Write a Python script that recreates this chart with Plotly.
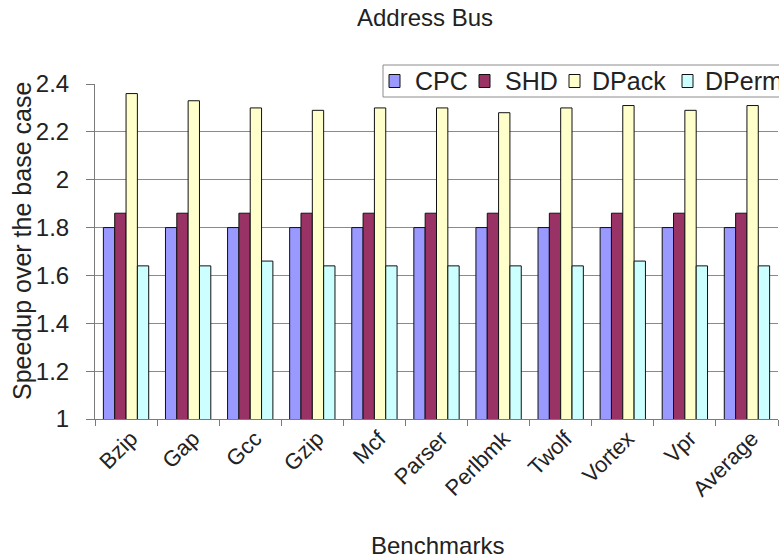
import plotly.graph_objects as go

# Benchmarks on the x axis
benchmarks = ["Bzip", "Gap", "Gcc", "Gzip", "Mcf", "Parser", "Perlbmk",
              "Twolf", "Vortex", "Vpr", "Average"]

# Speedup over the base case for each encoding scheme
cpc = [1.80, 1.80, 1.80, 1.80, 1.80, 1.80, 1.80, 1.80, 1.80, 1.80, 1.80]
shd = [1.86, 1.86, 1.86, 1.86, 1.86, 1.86, 1.86, 1.86, 1.86, 1.86, 1.86]
dpack = [2.36, 2.33, 2.30, 2.29, 2.30, 2.30, 2.28, 2.30, 2.31, 2.29, 2.31]
dperm = [1.64, 1.64, 1.66, 1.64, 1.64, 1.64, 1.64, 1.64, 1.66, 1.64, 1.64]

series_names = ["CPC", "SHD", "DPack", "DPerm"]
series_values = [cpc, shd, dpack, dperm]
series_colors = ["#9999FF", "#993366", "#FFFFCC", "#CCFFFF"]

y_ticks = [1, 1.2, 1.4, 1.6, 1.8, 2, 2.2, 2.4]
y_ticktext = ["1", "1.2", "1.4", "1.6", "1.8", "2", "2.2", "2.4"]

font_family = "Liberation Sans, Arial, sans-serif"
text_color = "#222222"
axis_gray = "#7a7a7a"

# page geometry (px): plot area spans x 95..778, y 84..419
W, H = 779, 559
L, R, T, B = 95, 1, 84, 140
PW, PH = W - L - R, H - T - B


def px_x(x):
    return (x - L) / PW


def px_y(y):
    return (H - B - y) / PH


fig = go.Figure()
for name, values, color in zip(series_names, series_values, series_colors):
    fig.add_trace(go.Bar(
        name=name,
        x=benchmarks,
        y=values,
        base=0,
        showlegend=False,
        marker=dict(color=color, line=dict(color="#111111", width=1)),
    ))

# Legend strip along the top, running off the right edge of the page
legend_swatch_left = [389, 479, 569, 682]
legend_text_left = [413, 503, 590, 703]
legend_top, legend_bottom, legend_mid = 65, 97, 81

shapes = [dict(
    type="rect", xref="paper", yref="paper",
    x0=px_x(383), x1=px_x(W + 20),
    y0=px_y(legend_bottom), y1=px_y(legend_top),
    line=dict(color="#8c8c8c", width=1),
    fillcolor="white",
    layer="above",
)]
annotations = []
for name, color, sx, tx in zip(series_names, series_colors,
                               legend_swatch_left, legend_text_left):
    shapes.append(dict(
        type="rect", xref="paper", yref="paper",
        x0=px_x(sx), x1=px_x(sx + 11),
        y0=px_y(legend_mid + 6.5), y1=px_y(legend_mid - 6.5),
        line=dict(color="#111111", width=1),
        fillcolor=color,
        layer="above",
    ))
    annotations.append(dict(
        text=name, xref="paper", yref="paper",
        x=px_x(tx), y=px_y(legend_mid),
        xanchor="left", yanchor="middle",
        showarrow=False,
        font=dict(size=25, color=text_color),
    ))

annotations += [
    dict(
        text="Speedup over the base case",
        xref="paper", yref="paper",
        x=px_x(22), y=px_y(241),
        xanchor="center", yanchor="middle",
        textangle=-90, showarrow=False,
        font=dict(size=25, color=text_color),
    ),
    dict(
        text="Benchmarks",
        xref="paper", yref="paper",
        x=px_x(437), y=px_y(545),
        xanchor="center", yanchor="middle",
        showarrow=False,
        font=dict(size=24, color=text_color),
    ),
]

fig.update_layout(
    width=W,
    height=H,
    margin=dict(l=L, r=R, t=T, b=B, autoexpand=False),
    paper_bgcolor="white",
    plot_bgcolor="white",
    barmode="group",
    bargap=0.27,
    bargroupgap=0,
    font=dict(family=font_family, color=text_color),
    title=dict(
        text="Address Bus",
        x=0.5456, xanchor="center",
        y=0.968, yanchor="middle",
        font=dict(size=24, color=text_color),
    ),
    showlegend=False,
    shapes=shapes,
    annotations=annotations,
)

fig.update_xaxes(
    type="category",
    tickson="boundaries",
    ticks="outside",
    ticklen=6,
    tickcolor=axis_gray,
    showline=True,
    linecolor=axis_gray,
    linewidth=1,
    tickangle=-45,
    ticklabelshift=5,
    ticklabelstandoff=-3,
    tickfont=dict(size=22, color=text_color),
    showgrid=False,
)

fig.update_yaxes(
    range=[1, 2.4],
    tickvals=y_ticks,
    ticktext=y_ticktext,
    ticks="outside",
    ticklen=8,
    tickcolor=axis_gray,
    ticklabelstandoff=12,
    showline=True,
    linecolor=axis_gray,
    linewidth=1,
    showgrid=True,
    gridcolor="#8a8a8a",
    gridwidth=1,
    zeroline=False,
    tickfont=dict(size=24, color=text_color),
)

fig.write_html("out.html")
